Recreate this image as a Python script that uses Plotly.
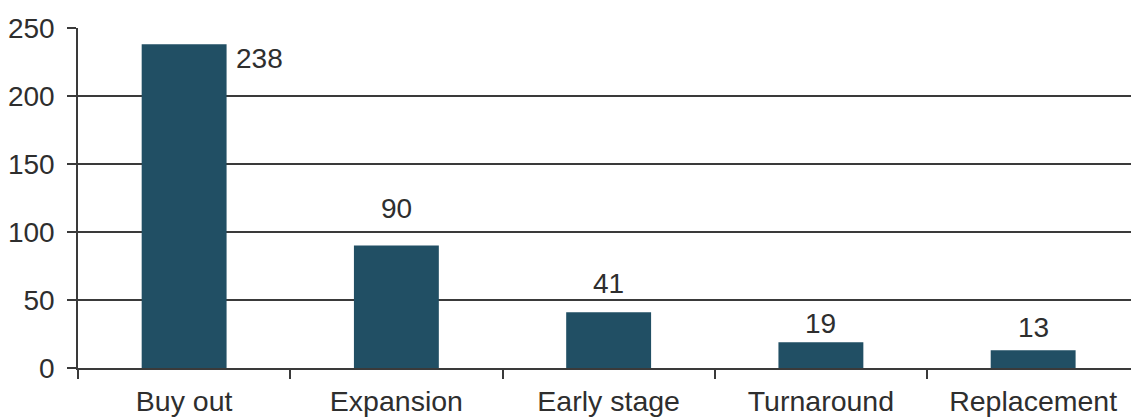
import plotly.graph_objects as go

categories = ["Buy out", "Expansion", "Early stage", "Turnaround", "Replacement"]
values = [238, 90, 41, 19, 13]
y_ticks = [0, 50, 100, 150, 200, 250]

# label placement offsets (pixels)
label_xshift = [75, 0, 0, 0, 0]
label_yshift = [-14, 37, 29, 19, 23]

BAR = "#214F64"
GRID = "#3a3a3a"
TEXT = "#2e2e2e"
FONT = "Liberation Sans, Arial, Helvetica, sans-serif"

fig = go.Figure()
fig.add_trace(go.Bar(
    x=categories, y=values, width=0.4,
    marker=dict(color=BAR, line=dict(width=0)),
    hoverinfo="x+y",
))

for c, v, xs, ys in zip(categories, values, label_xshift, label_yshift):
    fig.add_annotation(x=c, y=v, text=str(v), showarrow=False,
                       xanchor="center", yanchor="middle",
                       xshift=xs, yshift=ys,
                       font=dict(family=FONT, size=28, color=TEXT))

fig.update_layout(
    width=1131, height=420,
    margin=dict(l=78, r=0, t=28, b=52, pad=0, autoexpand=False),
    paper_bgcolor="white", plot_bgcolor="white",
    showlegend=False,
    font=dict(family=FONT, size=28, color=TEXT),
    bargap=0.6,
)
fig.update_xaxes(
    type="category", range=[-0.5, 4.461], automargin=False,
    tickson="boundaries", ticks="outside", ticklen=9, tickwidth=1.5,
    tickcolor=GRID, showline=True, linecolor=GRID, linewidth=1.5,
    showgrid=False, ticklabelstandoff=7,
    tickfont=dict(family=FONT, size=28.5, color=TEXT),
)
fig.update_yaxes(
    range=[0, 250], tickvals=y_ticks, automargin=False,
    ticks="outside", ticklen=9, tickwidth=1.5, tickcolor=GRID,
    showline=True, linecolor=GRID, linewidth=1.5,
    showgrid=True, gridcolor=GRID, gridwidth=1.5,
    zeroline=False, ticklabelstandoff=7,
    tickfont=dict(family=FONT, size=28, color=TEXT),
)

fig.write_html("out.html")
